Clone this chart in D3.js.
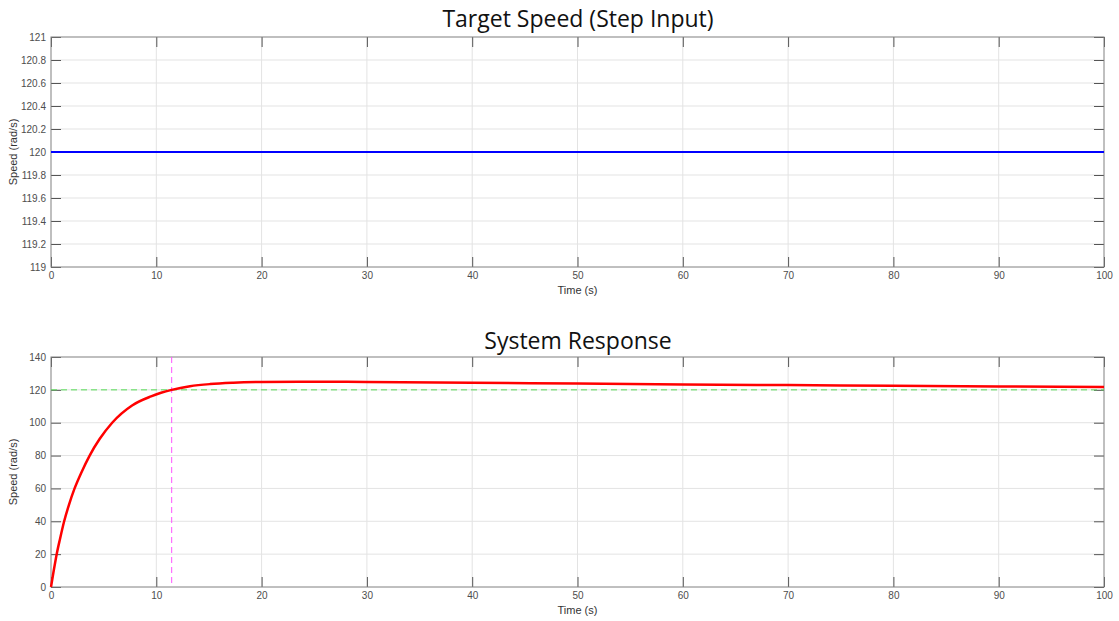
<!DOCTYPE html>
<html>
<head>
<meta charset="utf-8">
<script src="https://cdn.jsdelivr.net/npm/d3@7"></script>
<style>
  html, body { margin: 0; padding: 0; background: #ffffff; }
  svg { display: block; }
</style>
</head>
<body>
<svg id="chart" width="1119" height="621"></svg>
<script>
// ---- Data ----
const titles = ["Target Speed (Step Input)", "System Response"];
const xLabel = "Time (s)";
const yLabel = "Speed (rad/s)";
const xTicks = [0, 10, 20, 30, 40, 50, 60, 70, 80, 90, 100];
const targetYTicks = [119, 119.2, 119.4, 119.6, 119.8, 120, 120.2, 120.4, 120.6, 120.8, 121];
const responseYTicks = [0, 20, 40, 60, 80, 100, 120, 140];
const targetTime = [0, 100];
const targetSpeed = [120, 120];
const responseTime = [0, 0.26, 0.54, 0.86, 1.25, 1.69, 2.24, 2.9, 3.67, 4.63, 5.81, 7.7, 9.5, 10.45, 11.46, 13.2, 15.1, 17.3, 20, 23.6, 30, 40, 50, 60, 70, 80, 90, 100];
const responseSpeed = [0, 10, 20, 29.4, 40, 49.7, 60, 69.9, 80, 90.2, 100, 110.5, 116, 118.2, 120, 122.2, 123.5, 124.3, 124.8, 125.0, 124.8, 124.4, 123.8, 123.3, 122.9, 122.5, 122.1, 121.7];
const referenceLevel = [120];
const crossingTime = [11.46];

// ---- Layout ----
const svg = d3.select("#chart");
const left = 51, right = 1104;
const panels = [
  { top: 37, bottom: 267, domain: [119, 121], ticks: targetYTicks, title: titles[0], titleY: 27 },
  { top: 357, bottom: 587, domain: [0, 140], ticks: responseYTicks, title: titles[1], titleY: 349 }
];
const tickLen = 10;
const fontTick = "Liberation Sans, Arial, sans-serif";

const x = d3.scaleLinear().domain([0, 100]).range([left, right]);

function drawPanel(p) {
  const y = d3.scaleLinear().domain(p.domain).range([p.bottom, p.top]);
  const g = svg.append("g");

  // grid
  g.selectAll(".vg").data(xTicks.slice(1, -1)).enter().append("line")
    .attr("x1", d => x(d)).attr("x2", d => x(d))
    .attr("y1", p.top).attr("y2", p.bottom)
    .attr("stroke", "#e3e3e3").attr("stroke-width", 1);
  g.selectAll(".hg").data(p.ticks.slice(1, -1)).enter().append("line")
    .attr("y1", d => y(d)).attr("y2", d => y(d))
    .attr("x1", left).attr("x2", right)
    .attr("stroke", "#e3e3e3").attr("stroke-width", 1);

  // axes via d3 (inward ticks)
  const xb = d3.axisBottom(x).tickValues(xTicks).tickSize(-tickLen).tickPadding(5).tickFormat(d3.format("d"));
  const xt = d3.axisTop(x).tickValues(xTicks).tickSize(-tickLen).tickFormat("");
  const yl = d3.axisLeft(y).tickValues(p.ticks).tickSize(-tickLen).tickPadding(5).tickFormat(d => String(+d.toFixed(1)));
  const yr = d3.axisRight(y).tickValues(p.ticks).tickSize(-tickLen).tickFormat("");

  const styleAxis = sel => {
    sel.selectAll(".tick line").attr("stroke", "#555555").attr("stroke-width", 1);
    sel.selectAll(".tick text").attr("fill", "#4d4d4d").style("font-family", fontTick).style("font-size", "10px");
  };
  g.append("g").attr("transform", `translate(0,${p.bottom})`).call(xb).call(styleAxis);
  g.append("g").attr("transform", `translate(0,${p.top})`).call(xt).call(styleAxis);
  g.append("g").attr("transform", `translate(${left},0)`).call(yl).call(styleAxis);
  g.append("g").attr("transform", `translate(${right},0)`).call(yr).call(styleAxis);
  g.selectAll(".domain").remove();
  g.append("rect").attr("x", left).attr("y", p.top).attr("width", right - left).attr("height", p.bottom - p.top)
    .attr("fill", "none").attr("stroke", "#808080").attr("stroke-width", 1);

  // labels
  g.append("text").attr("x", (left + right) / 2).attr("y", p.bottom + 27)
    .attr("text-anchor", "middle").attr("fill", "#333").style("font-family", fontTick).style("font-size", "11px").text(xLabel);
  g.append("text").attr("transform", `translate(17,${(p.top + p.bottom) / 2}) rotate(-90)`)
    .attr("text-anchor", "middle").attr("fill", "#333").style("font-family", fontTick).style("font-size", "11px").text(yLabel);
  g.append("text").attr("x", (left + right) / 2 + 0.5).attr("y", p.titleY)
    .attr("text-anchor", "middle").attr("fill", "#111").style("font-family", "Open Sans, sans-serif").style("font-size", "23px").text(p.title);

  return y;
}

const y1 = drawPanel(panels[0]);
const y2 = drawPanel(panels[1]);

// Top: target line
const line1 = d3.line().x((d, i) => x(targetTime[i])).y(d => y1(d));
svg.append("path").datum(targetSpeed).attr("d", line1)
  .attr("fill", "none").attr("stroke", "#0000ff").attr("stroke-width", 2);

// Bottom: reference dashes
svg.append("g").selectAll("line").data(referenceLevel).enter().append("line")
  .attr("x1", x(0)).attr("x2", x(100)).attr("y1", d => y2(d)).attr("y2", d => y2(d))
  .attr("stroke", "#55dd55").attr("stroke-width", 1).attr("stroke-dasharray", "6,4");
svg.append("g").selectAll("line").data(crossingTime).enter().append("line")
  .attr("x1", d => x(d)).attr("x2", d => x(d)).attr("y1", y2(140)).attr("y2", y2(0))
  .attr("stroke", "#ff55ff").attr("stroke-width", 1).attr("stroke-dasharray", "6,4");

// Bottom: response
const line2 = d3.line().x((d, i) => x(responseTime[i])).y(d => y2(d)).curve(d3.curveMonotoneX);
svg.append("path").datum(responseSpeed).attr("d", line2)
  .attr("fill", "none").attr("stroke", "#ff0000").attr("stroke-width", 2.5);
</script>
</body>
</html>
